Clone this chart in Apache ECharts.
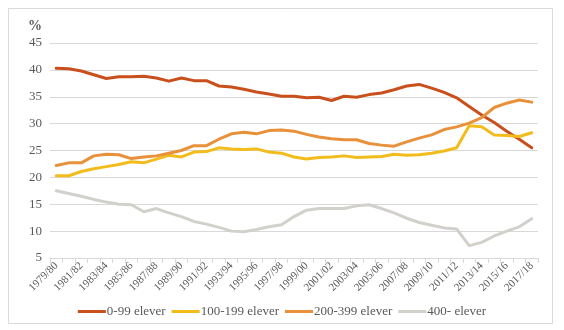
<!DOCTYPE html>
<html><head><meta charset="utf-8">
<script src="https://cdn.jsdelivr.net/npm/echarts@6/dist/echarts.min.js"></script>
<style>html,body{margin:0;padding:0;background:#fff}#c{width:564px;height:330px}</style>
</head><body><div id="c"></div>
<script>
var categories = ['1979/80','1980/81','1981/82','1982/83','1983/84','1984/85','1985/86','1986/87','1987/88','1988/89','1989/90','1990/91','1991/92','1992/93','1993/94','1994/95','1995/96','1996/97','1997/98','1998/99','1999/00','2000/01','2001/02','2002/03','2003/04','2004/05','2005/06','2006/07','2007/08','2008/09','2009/10','2010/11','2011/12','2012/13','2013/14','2014/15','2015/16','2016/17','2017/18'];
var s0_99 = [40.3,40.2,39.8,39.1,38.4,38.7,38.7,38.8,38.5,37.9,38.5,38.0,38.0,37.0,36.8,36.4,35.9,35.5,35.1,35.1,34.8,34.9,34.3,35.1,34.9,35.4,35.7,36.3,37.0,37.3,36.6,35.8,34.8,33.2,31.6,30.2,28.6,27.1,25.5];
var s100_199 = [20.3,20.3,21.1,21.6,22.0,22.4,22.9,22.7,23.4,24.1,23.8,24.7,24.8,25.5,25.3,25.2,25.3,24.7,24.5,23.8,23.4,23.7,23.8,24.0,23.7,23.8,23.9,24.3,24.1,24.2,24.5,24.9,25.5,29.6,29.4,27.9,27.8,27.6,28.3];
var s200_399 = [22.2,22.7,22.7,24.0,24.3,24.2,23.5,23.8,24.0,24.5,25.0,25.9,25.9,27.1,28.1,28.4,28.1,28.7,28.8,28.6,28.0,27.5,27.2,27.0,27.0,26.3,26.0,25.8,26.6,27.3,27.9,28.9,29.4,30.1,31.1,33.0,33.8,34.4,34.0];
var s400 = [17.5,17.0,16.5,15.9,15.4,15.0,14.9,13.6,14.2,13.4,12.7,11.8,11.3,10.7,10.0,9.9,10.3,10.8,11.2,12.7,13.9,14.2,14.2,14.2,14.7,14.9,14.2,13.4,12.4,11.6,11.1,10.6,10.4,7.3,7.9,9.1,10.0,10.8,12.3];
var yTicks = [5,10,15,20,25,30,35,40,45];
var seriesNames = ['0-99 elever','100-199 elever','200-399 elever','400- elever'];
var colors = ['#C9501C','#F2BC1C','#E8913A','#D2D0CB'];

var font = '"Liberation Serif", "DejaVu Serif", serif';
var chart = echarts.init(document.getElementById('c'), null, {renderer:'canvas'});
function mk(name, data, color){
  return {name:name, type:'line', data:data, symbol:'none', smooth:false,
    lineStyle:{width:3, color:color, cap:'round', join:'round'}, itemStyle:{color:color}};
}
chart.setOption({
  animation:false,
  color: colors,
  graphic:[{type:'rect', shape:{x:8.5,y:8.5,width:544,height:315}, style:{fill:'none', stroke:'#d9d9d9', lineWidth:1}, z:-1}],
  grid:{left:50, right:26, top:43, bottom:72, containLabel:false},
  xAxis:{type:'category', data:categories, boundaryGap:true,
    axisLine:{lineStyle:{color:'#d9d9d9'}},
    axisTick:{show:true, interval:0, length:5, lineStyle:{color:'#d9d9d9'}},
    axisLabel:{interval:1, rotate:45, color:'#595959', fontFamily:font, fontSize:11, margin:6}},
  yAxis:{type:'value', min:yTicks[0], max:yTicks[yTicks.length-1], interval:5,
    name:'%', nameLocation:'end', nameGap:10,
    nameTextStyle:{color:'#595959', fontFamily:font, fontSize:14, fontWeight:'bold', align:'right', padding:[0,8,0,0]},
    axisLine:{show:false}, axisTick:{show:false},
    splitLine:{lineStyle:{color:'#d9d9d9'}},
    axisLabel:{color:'#595959', fontFamily:font, fontSize:13, margin:8}},
  legend:{bottom:7, left:'center', itemWidth:28, itemHeight:3, itemGap:6,
    icon:'rect',
    textStyle:{color:'#595959', fontFamily:font, fontSize:13, padding:[0,0,0,-4]},
    data:seriesNames},
  series:[mk(seriesNames[0], s0_99, colors[0]), mk(seriesNames[1], s100_199, colors[1]), mk(seriesNames[2], s200_399, colors[2]), mk(seriesNames[3], s400, colors[3])]
});
</script></body></html>
